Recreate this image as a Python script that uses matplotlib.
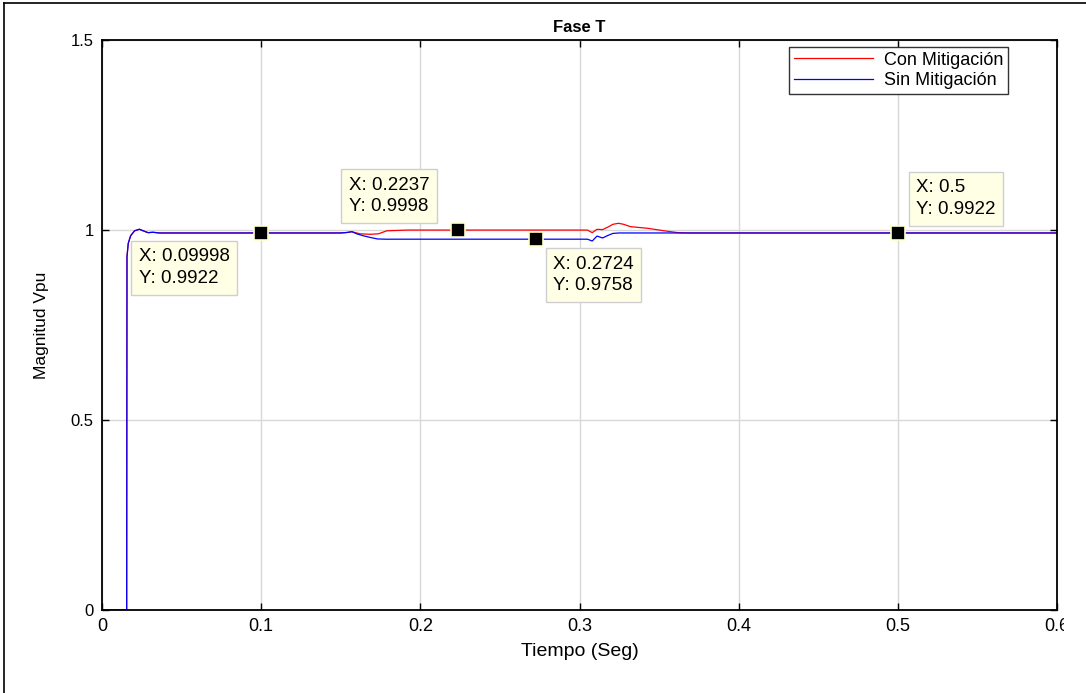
import matplotlib
matplotlib.use("Agg")
import matplotlib.pyplot as plt
from matplotlib.lines import Line2D
from matplotlib.patches import Rectangle

# series (time in s, magnitude in pu)
t_sin = [0, 0.0155, 0.0157, 0.0165, 0.018, 0.0205, 0.0235, 0.027, 0.029, 0.032, 0.036,
         0.150, 0.154, 0.157, 0.160, 0.164, 0.169, 0.173, 0.178, 0.305, 0.308, 0.311,
         0.3145, 0.318, 0.321, 0.325, 0.6]
v_sin = [0, 0, 0.93, 0.965, 0.985, 0.998, 1.002, 0.996, 0.993, 0.994, 0.9922,
         0.9922, 0.9935, 0.9955, 0.990, 0.985, 0.980, 0.9765, 0.9758, 0.9758, 0.971, 0.984,
         0.979, 0.986, 0.991, 0.9922, 0.9922]

t_con = [0, 0.0155, 0.0157, 0.0165, 0.018, 0.0205, 0.0235, 0.027, 0.029, 0.032, 0.036,
         0.150, 0.154, 0.157, 0.162, 0.1686, 0.1737, 0.179, 0.192, 0.305, 0.308, 0.311,
         0.3145, 0.318, 0.321, 0.3245, 0.3277, 0.332, 0.3428, 0.353, 0.362, 0.368, 0.6]
v_con = [0, 0, 0.93, 0.965, 0.985, 0.998, 1.002, 0.996, 0.993, 0.994, 0.9922,
         0.9922, 0.9935, 0.9955, 0.990, 0.9887, 0.990, 0.998, 0.9998, 0.9998, 0.993, 1.0018,
         1.001, 1.008, 1.015, 1.0176, 1.015, 1.0088, 1.0045, 0.998, 0.993, 0.9922, 0.9922]

# data tips: (x, y, label text)
tip_x = [0.09998, 0.2237, 0.2724, 0.5]
tip_y = [0.9922, 0.9998, 0.9758, 0.9922]
tip_txt = ["X: 0.09998\nY: 0.9922", "X: 0.2237\nY: 0.9998",
           "X: 0.2724\nY: 0.9758", "X: 0.5\nY: 0.9922"]
tip_off = [(-122.5, -15.5), (-109.5, 53.5), (17.5, -16.5), (18.5, 53.5)]

x_ticks = [0, 0.1, 0.2, 0.3, 0.4, 0.5, 0.6]
x_labels = ["0", "0.1", "0.2", "0.3", "0.4", "0.5", "0.6"]
y_ticks = [0, 0.5, 1, 1.5]
y_labels = ["0", "0.5", "1", "1.5"]

plt.rcParams['font.family'] = ['Liberation Sans', 'DejaVu Sans']

fig = plt.figure(figsize=(10.86, 6.93), dpi=100)
ax = fig.add_axes([102 / 1086, 1 - 610 / 693, 955 / 1086, 570 / 693])

ax.plot(t_con, v_con, color='#ff0000', lw=0.9, label='Con Mitigación')
ax.plot(t_sin, v_sin, color='#0000ff', lw=0.9, label='Sin Mitigación')

ax.set_xlim(0, 0.6)
ax.set_ylim(0, 1.5)
ax.set_xticks(x_ticks)
ax.set_xticklabels(x_labels, fontsize=13)
ax.set_yticks(y_ticks)
ax.set_yticklabels(y_labels, fontsize=12)
ax.tick_params(direction='in', top=True, right=True, length=5, width=1, pad=6)
ax.grid(True, color='#d8d8d8', lw=1)
ax.set_axisbelow(True)
for sp in ax.spines.values():
    sp.set_linewidth(1.3)

ax.set_title("Fase T", fontweight='bold', fontsize=12, pad=6)
ax.set_xlabel("Tiempo (Seg)", fontsize=14)
ax.set_ylabel("Magnitud Vpu", fontsize=12.5)
ax.xaxis.set_label_coords(0.5, -0.058)
ax.yaxis.set_label_coords(-0.055, 0.5)

leg = ax.legend(loc='upper right', bbox_to_anchor=(0.9487, 0.9877), borderaxespad=0,
                fancybox=False, framealpha=1, edgecolor='#333333', fontsize=13,
                handlelength=4.4, handletextpad=0.6, labelspacing=0.2, borderpad=0.25)
leg.get_frame().set_linewidth(1)

for x, y, txt, off in zip(tip_x, tip_y, tip_txt, tip_off):
    ax.plot(x, y, marker='s', ms=10, color='black', mec='#ffffcc', mew=1.2, zorder=6)
    ax.annotate(txt, (x, y), xytext=off, textcoords='offset pixels',
                ha='left', va='top', fontsize=13.5, linespacing=1.35, zorder=7,
                bbox=dict(boxstyle='square,pad=0.4', fc='#ffffe6', ec='#cfcfcf', lw=1))

# the screenshot is cut off on the right, through the last tick label
fig.add_artist(Rectangle((1064 / 1086, 0), 22 / 1086, 1, transform=fig.transFigure,
                         facecolor='white', edgecolor='none', zorder=10))

# screenshot frame edges
fig.add_artist(Line2D([4 / 1086, 4 / 1086], [0, 1 - 3 / 693], color='black', lw=1.2, zorder=11))
fig.add_artist(Line2D([4 / 1086, 1], [1 - 3 / 693, 1 - 3 / 693], color='black', lw=1.2, zorder=11))

fig.savefig("out.png", dpi=100)
